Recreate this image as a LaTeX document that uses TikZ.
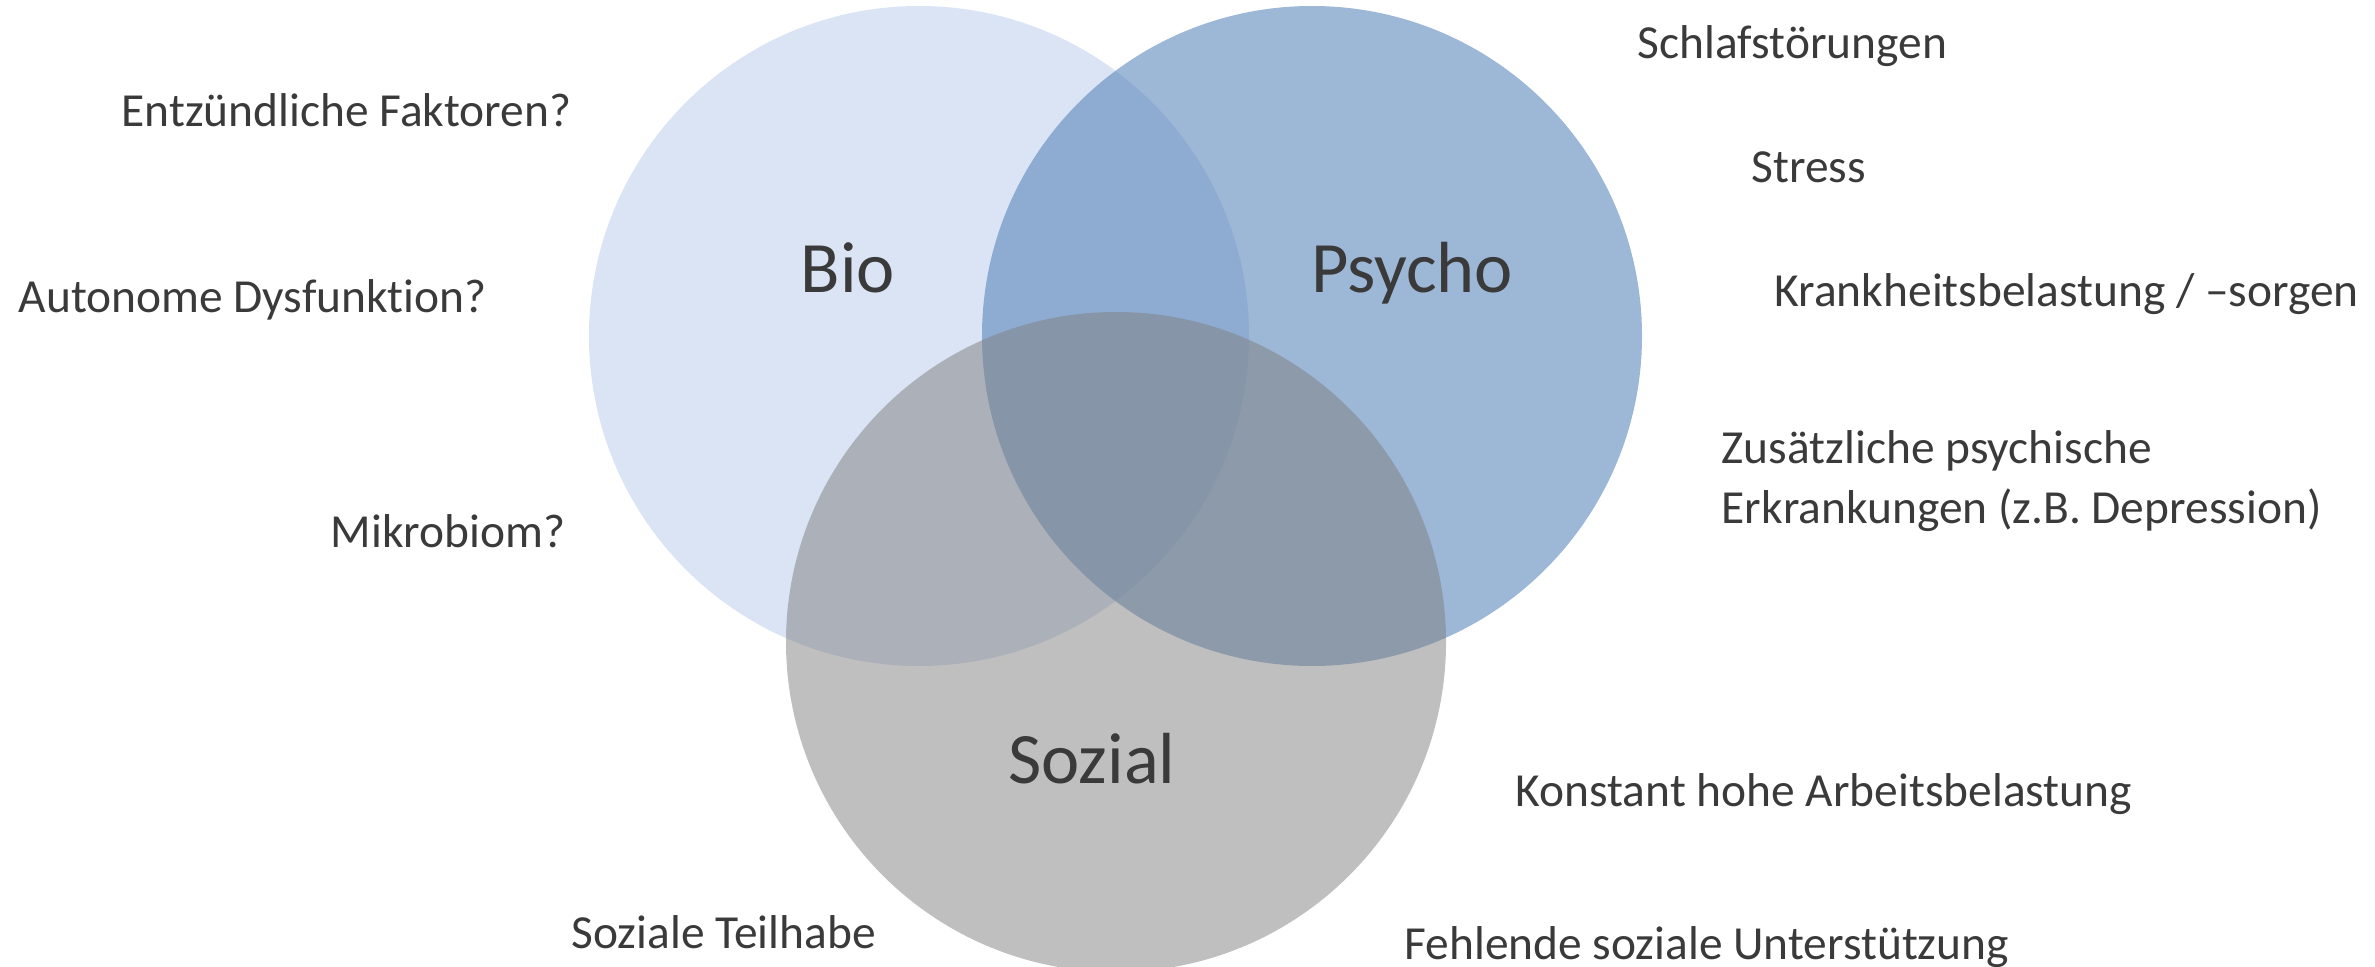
\documentclass[tikz,border=0pt]{standalone}
\usepackage{fontspec}
\setmainfont{Carlito}[Ligatures=NoCommon]
\definecolor{biofill}{HTML}{DAE4F4}
\definecolor{psychofill}{HTML}{5C87BC}
\definecolor{sozialfill}{HTML}{7F7F7F}
\definecolor{txt}{HTML}{3A3A3A}

\begin{document}
\begin{tikzpicture}[
	factor/.style={anchor=base west, inner sep=0pt, text=txt, font=\fontsize{13.5}{17}\selectfont},
	field/.style={anchor=base, inner sep=0pt, text=txt, font=\fontsize{20.6}{24}\selectfont}]
	\useasboundingbox (0,0) rectangle (23.75,-9.67);
	\fill[biofill] (9.19,-3.36) circle (3.30);
	\fill[psychofill, fill opacity=0.6] (13.12,-3.36) circle (3.30);
	\fill[sozialfill, fill opacity=0.5] (11.16,-6.42) circle (3.30);
	\node[field] (bio) at (8.48,-2.92) {Bio};
	\node[field] (psycho) at (14.12,-2.92) {Psycho};
	\node[field] (sozial) at (10.92,-7.83) {Sozial};
	\node[factor] (entz) at (1.21,-1.26) {Entzündliche Faktoren?};
	\node[factor] (auto) at (0.18,-3.12) {Autonome Dysfunktion?};
	\node[factor] (mikro) at (3.30,-5.47) {Mikrobiom?};
	\node[factor] (schlaf) at (16.37,-0.59) {Schlafstörungen};
	\node[factor] (stress) at (17.51,-1.82) {Stress};
	\node[factor] (krank) at (17.74,-3.06) {Krankheitsbelastung / –sorgen};
	\node[factor, align=left] (zusatz) at (17.21,-5.23) {Zusätzliche psychische\\Erkrankungen (z.B. Depression)};
	\node[factor] (arbeit) at (15.15,-8.06) {Konstant hohe Arbeitsbelastung};
	\node[factor] (teilhabe) at (5.71,-9.48) {Soziale Teilhabe};
	\node[factor] (unterst) at (14.04,-9.59) {Fehlende soziale Unterstützung};
\end{tikzpicture}
\end{document}
